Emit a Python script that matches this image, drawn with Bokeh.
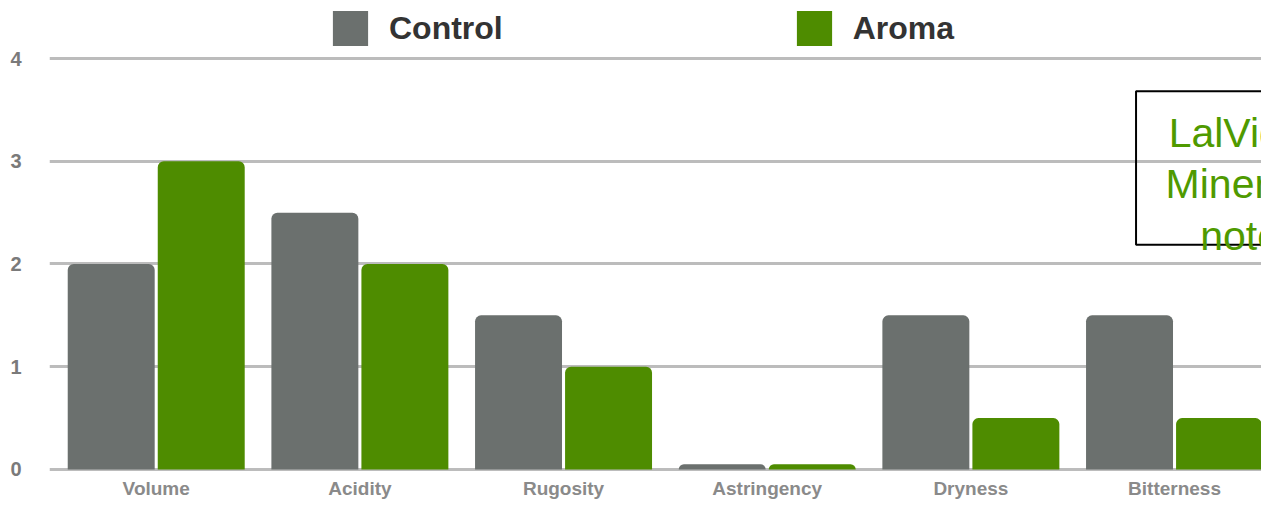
from bokeh.plotting import figure
from bokeh.models import (Range1d, FixedTicker, Legend, LegendItem, Label,
                          BoxAnnotation, ColumnDataSource)
from bokeh.core.properties import value
from bokeh.embed import file_html
from bokeh.resources import INLINE

# ---- data ----
categories = ["Volume", "Acidity", "Rugosity", "Astringency", "Dryness", "Bitterness"]
control = [2.0, 2.5, 1.5, 0.05, 1.5, 1.5]
aroma = [3.0, 2.0, 1.0, 0.05, 0.5, 0.5]
series_names = ["Control", "Aroma"]
y_ticks = [0, 1, 2, 3, 4]
note_lines = ["LalVigne\u2122", "Mineral", "notes"]

GRAY = "#6b706e"
GREEN = "#4e8c00"
FONT = "Liberation Sans"

bar_w = 0.427
gap = 0.015
off = gap / 2 + bar_w / 2
centers = [i + 0.5 for i in range(len(categories))]

src_c = ColumnDataSource(dict(x=[c - off for c in centers], top=control))
src_a = ColumnDataSource(dict(x=[c + off for c in centers], top=aroma))
src_lab = ColumnDataSource(dict(x=centers, y=[-0.185] * len(centers), text=categories))

p = figure(width=1261, height=499, output_backend="svg", toolbar_location=None,
           x_range=Range1d(-0.024, 5.927), y_range=Range1d(-0.292, 4.5645),
           min_border_left=49, min_border_right=0, min_border_top=0,
           min_border_bottom=0)
p.outline_line_color = None
p.background_fill_color = "white"

rc = p.vbar(x="x", top="top", bottom=0, width=bar_w, source=src_c,
            fill_color=GRAY, line_color=None, border_radius=(6, 6, 0, 0))
ra = p.vbar(x="x", top="top", bottom=0, width=bar_w, source=src_a,
            fill_color=GREEN, line_color=None, border_radius=(6, 6, 0, 0))

# category labels (x axis)
p.xaxis.visible = False
p.text(x="x", y="y", text="text", source=src_lab, text_align="center",
       text_baseline="middle", text_font=value(FONT), text_font_style="bold",
       text_font_size="19px", text_color="#8a8a8a")

p.yaxis.ticker = FixedTicker(ticks=y_ticks)
p.yaxis.axis_line_color = None
p.yaxis.major_tick_line_color = None
p.yaxis.minor_tick_line_color = None
p.yaxis.major_tick_out = 0
p.yaxis.minor_tick_out = 0
p.yaxis.major_label_standoff = 28
p.yaxis.major_label_text_font = FONT
p.yaxis.major_label_text_font_style = "bold"
p.yaxis.major_label_text_font_size = "20px"
p.yaxis.major_label_text_color = "#7a7a7a"

p.xgrid.grid_line_color = None
p.ygrid.ticker = FixedTicker(ticks=y_ticks)
p.ygrid.grid_line_color = "#bcbcbc"
p.ygrid.grid_line_width = 3

# legend
legend = Legend(items=[LegendItem(label=series_names[0], renderers=[rc]),
                       LegendItem(label=series_names[1], renderers=[ra])],
                orientation="horizontal", location=(279, 449),
                glyph_width=44, glyph_height=44, label_standoff=17, spacing=289,
                padding=0, margin=0, border_line_color=None,
                background_fill_alpha=0,
                label_text_font=FONT, label_text_font_style="bold",
                label_text_font_size="32px", label_text_color="#333333")
p.add_layout(legend)

# note box
p.add_layout(BoxAnnotation(left=5.311, right=7.0, top=3.682, bottom=2.188,
                           fill_alpha=0, fill_color=None,
                           line_color="black", line_alpha=1.0, line_width=2))
note_x = [5.471, 5.456, 5.626]
note_y = [3.277, 2.776, 2.275]
for t, x, y in zip(note_lines, note_x, note_y):
    p.add_layout(Label(x=x, y=y, text=t, text_color="#4f9a00",
                       text_font=FONT, text_font_size="41px",
                       text_baseline="alphabetic", text_align="left"))

open("out.html", "w").write(file_html(p, INLINE))
